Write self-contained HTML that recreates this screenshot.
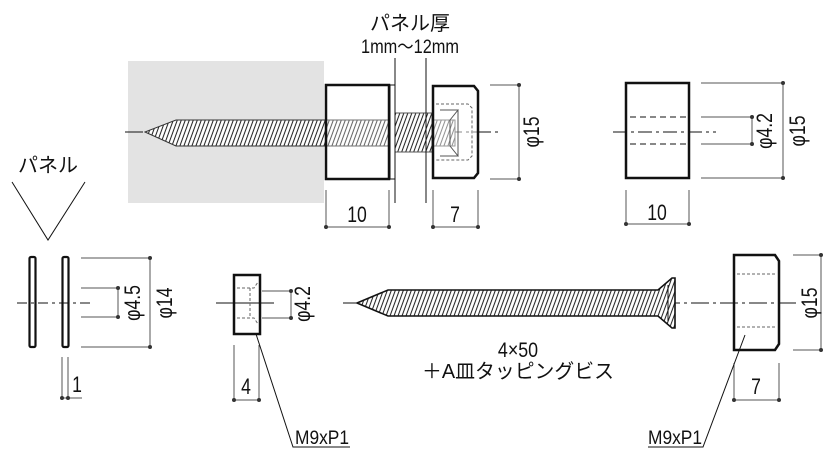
<!DOCTYPE html>
<html><head><meta charset="utf-8"><style>
html,body{margin:0;padding:0;background:#fff}
svg{display:block}
text{font-family:"Liberation Sans","Noto Sans CJK JP",sans-serif;fill:#111}
</style></head><body>
<svg width="829" height="468" viewBox="0 0 829 468" xmlns="http://www.w3.org/2000/svg">
<defs>
<pattern id="h" width="4" height="10" patternUnits="userSpaceOnUse" patternTransform="skewX(-20)">
<rect width="4" height="10" fill="#fff"/><line x1="1" y1="0" x2="1" y2="10" stroke="#222" stroke-width="1.1"/>
</pattern>
</defs>
<g stroke="#111" fill="none">
<rect x="128" y="61" width="196" height="142" fill="#e3e3e3" stroke="none"/>
<line x1="125" y1="132" x2="500" y2="132" stroke-width="1" stroke-dasharray="18,4,3,4"/>
<path d="M145,132 L176,120 L455,120 L455,146 L176,146 Z" fill="url(#h)" stroke="#333" stroke-width="1"/>
<rect x="390" y="85" width="5" height="94" fill="#fff" stroke-width="1"/>
<rect x="395" y="113" width="37" height="39" fill="url(#h)" stroke="#555" stroke-width="1"/>
<line x1="395" y1="58" x2="395" y2="203" stroke-width="1"/>
<line x1="426" y1="58" x2="426" y2="203" stroke-width="1"/>
<rect x="326" y="85" width="63" height="94" fill="rgba(255,255,255,0.3)" stroke-width="2.5"/>
<path d="M433,86 L474,86 L478,91 L478,173 L474,178 L433,178 Z" fill="rgba(255,255,255,0.5)" stroke-width="2.5"/>
<path d="M436,104 L468,104 L472,108 L472,156 L468,160 L436,160" stroke="#666" stroke-dasharray="3,2" stroke-width="1"/>
<path d="M440,110 L458,110 L450,120 L450,146 L458,156 L440,156" stroke="#555" stroke-width="1"/>
<line x1="458" y1="110" x2="458" y2="156" stroke="#555"/>
<g stroke="#555" stroke-width="1">
<line x1="490" y1="85" x2="520" y2="85"/><line x1="490" y1="179" x2="520" y2="179"/><line x1="519" y1="85" x2="519" y2="179"/>
<line x1="326" y1="190" x2="326" y2="229"/><line x1="389" y1="190" x2="389" y2="229"/><line x1="326" y1="227" x2="389" y2="227"/>
<line x1="433" y1="190" x2="433" y2="229"/><line x1="478" y1="190" x2="478" y2="229"/><line x1="433" y1="227" x2="478" y2="227"/>
</g>
<line x1="613" y1="132" x2="716" y2="132" stroke-dasharray="14,4,3,4"/>
<line x1="630" y1="117" x2="686" y2="117" stroke-dasharray="6,4"/>
<line x1="630" y1="144" x2="686" y2="144" stroke-dasharray="6,4"/>
<rect x="626" y="83" width="63" height="95" stroke-width="2.5"/>
<g stroke="#555">
<line x1="701" y1="83" x2="783" y2="83"/><line x1="701" y1="178" x2="783" y2="178"/><line x1="783" y1="83" x2="783" y2="178"/>
<line x1="701" y1="117" x2="752" y2="117"/><line x1="701" y1="144" x2="752" y2="144"/><line x1="752" y1="117" x2="752" y2="144"/>
<line x1="626" y1="190" x2="626" y2="225"/><line x1="689" y1="190" x2="689" y2="225"/><line x1="626" y1="224" x2="689" y2="224"/>
</g>
<polyline points="12,182 48,240 85,182" stroke-width="1"/>
<line x1="17" y1="303" x2="92" y2="303" stroke-dasharray="10,4,3,4"/>
<rect x="29.5" y="257" width="6" height="90" rx="1.5" stroke-width="2.2"/>
<rect x="62.5" y="257" width="6" height="90" rx="1.5" stroke-width="2.2"/>
<g stroke="#555">
<line x1="81" y1="258" x2="150" y2="258"/><line x1="81" y1="347" x2="150" y2="347"/><line x1="150" y1="258" x2="150" y2="347"/>
<line x1="81" y1="288" x2="118" y2="288"/><line x1="81" y1="317" x2="118" y2="317"/><line x1="118" y1="288" x2="118" y2="317"/>
<line x1="62" y1="357" x2="62" y2="398"/><line x1="68" y1="357" x2="68" y2="398"/><line x1="62" y1="398" x2="82" y2="398"/>
</g>
<line x1="216" y1="303" x2="274" y2="303"/>
<rect x="234" y="275" width="26" height="59" stroke-width="2.5" fill="none"/>
<path d="M237,288 L254,288 L258,282 M237,318 L254,318 L258,324 M250,288 L250,318" stroke="#666" stroke-dasharray="3,2"/>
<g stroke="#555">
<line x1="262" y1="291" x2="291" y2="291"/><line x1="262" y1="318" x2="291" y2="318"/><line x1="291" y1="291" x2="291" y2="318"/>
<line x1="234" y1="345" x2="234" y2="400"/><line x1="259" y1="345" x2="259" y2="400"/><line x1="234" y1="400" x2="259" y2="400"/>
</g>
<polyline points="256,334 293,447 350,447" stroke-width="1"/>
<line x1="343" y1="303" x2="800" y2="303" stroke-dasharray="18,4,3,4"/>
<path d="M357,303 L388,290 L658,290 L672,278 L675,278 L675,328 L672,328 L658,316 L388,316 Z" fill="url(#h)" stroke-width="1.6"/>
<line x1="668" y1="285" x2="668" y2="321" stroke-width="1"/>
<path d="M734,255 L775,255 L779,261 L779,344 L775,350 L734,350 Z" stroke-width="2.5"/>
<line x1="737" y1="274" x2="775" y2="274" stroke="#666" stroke-dasharray="3,2"/>
<line x1="737" y1="327" x2="775" y2="327" stroke="#666" stroke-dasharray="3,2"/>
<g stroke="#555">
<line x1="793" y1="255" x2="821" y2="255"/><line x1="793" y1="350" x2="821" y2="350"/><line x1="821" y1="255" x2="821" y2="350"/>
<line x1="734" y1="363" x2="734" y2="401"/><line x1="779" y1="363" x2="779" y2="401"/><line x1="734" y1="400" x2="779" y2="400"/>
</g>
<polyline points="745,335 703,447 648,447" stroke-width="1"/>
</g>
<g fill="#333">
<circle cx="519" cy="85" r="2"/><circle cx="519" cy="179" r="2"/>
<circle cx="326" cy="227" r="2"/><circle cx="389" cy="227" r="2"/><circle cx="433" cy="227" r="2"/><circle cx="478" cy="227" r="2"/>
<circle cx="783" cy="83" r="2"/><circle cx="783" cy="178" r="2"/><circle cx="752" cy="117" r="2"/><circle cx="752" cy="144" r="2"/>
<circle cx="626" cy="224" r="2"/><circle cx="689" cy="224" r="2"/>
<circle cx="150" cy="258" r="2"/><circle cx="150" cy="347" r="2"/><circle cx="118" cy="288" r="2"/><circle cx="118" cy="317" r="2"/>
<circle cx="62" cy="398" r="2"/><circle cx="68" cy="398" r="2"/>
<circle cx="291" cy="291" r="2"/><circle cx="291" cy="318" r="2"/><circle cx="234" cy="400" r="2"/><circle cx="259" cy="400" r="2"/>
<circle cx="821" cy="255" r="2"/><circle cx="821" cy="350" r="2"/><circle cx="734" cy="400" r="2"/><circle cx="779" cy="400" r="2"/>
</g>
<text x="410" y="30" font-size="20" text-anchor="middle">パネル厚</text>
<text x="410" y="53" font-size="19" text-anchor="middle" textLength="98" lengthAdjust="spacingAndGlyphs">1mm～12mm</text>
<text transform="translate(357,222) scale(0.8,1)" font-size="22" text-anchor="middle">10</text>
<text transform="translate(455,222) scale(0.8,1)" font-size="22" text-anchor="middle">7</text>
<text transform="translate(539,132) rotate(-90) scale(0.8,1)" font-size="22" text-anchor="middle">φ15</text>
<text transform="translate(657,220) scale(0.8,1)" font-size="22" text-anchor="middle">10</text>
<text transform="translate(772,131) rotate(-90) scale(0.8,1)" font-size="22" text-anchor="middle">φ4.2</text>
<text transform="translate(805,131) rotate(-90) scale(0.8,1)" font-size="22" text-anchor="middle">φ15</text>
<text x="48" y="172" font-size="20" text-anchor="middle">パネル</text>
<text transform="translate(140,303) rotate(-90) scale(0.8,1)" font-size="22" text-anchor="middle">φ4.5</text>
<text transform="translate(172,303) rotate(-90) scale(0.8,1)" font-size="22" text-anchor="middle">φ14</text>
<text transform="translate(77,392) scale(0.8,1)" font-size="22" text-anchor="middle">1</text>
<text transform="translate(310,304) rotate(-90) scale(0.8,1)" font-size="22" text-anchor="middle">φ4.2</text>
<text transform="translate(246,394) scale(0.8,1)" font-size="22" text-anchor="middle">4</text>
<text x="295" y="444" font-size="19" textLength="54" lengthAdjust="spacingAndGlyphs">M9xP1</text>
<text transform="translate(518,357) scale(0.85,1)" font-size="21" text-anchor="middle">4×50</text>
<text x="518" y="378" font-size="20" text-anchor="middle" textLength="192" lengthAdjust="spacingAndGlyphs">＋A皿タッピングビス</text>
<text transform="translate(817,303) rotate(-90) scale(0.8,1)" font-size="22" text-anchor="middle">φ15</text>
<text transform="translate(756,394) scale(0.8,1)" font-size="22" text-anchor="middle">7</text>
<text x="648" y="444" font-size="19" textLength="54" lengthAdjust="spacingAndGlyphs">M9xP1</text>
</svg>
</body></html>
